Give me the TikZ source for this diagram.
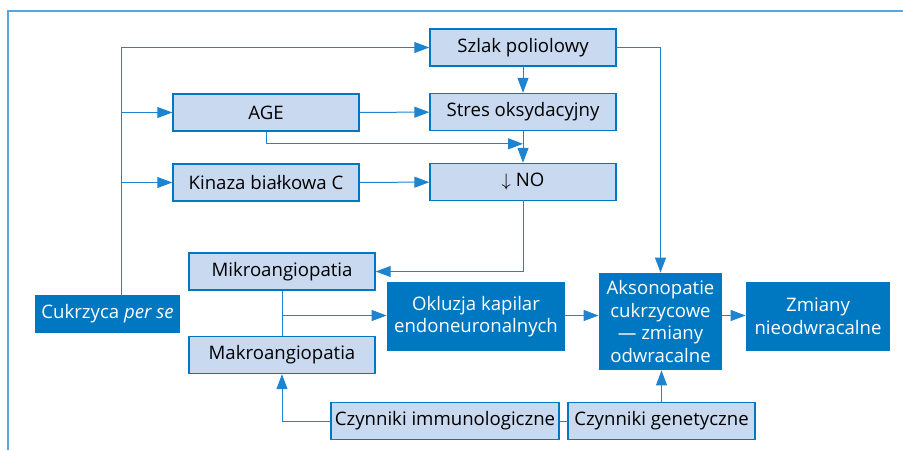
\documentclass[tikz,border=0pt]{standalone}
\usepackage{fontspec}
\setmainfont{Open Sans}
\usepackage{tikz}
\definecolor{boxfill}{RGB}{200,217,240}
\definecolor{boxblue}{RGB}{0,120,193}
\definecolor{linkblue}{RGB}{30,132,208}
\definecolor{frameblue}{RGB}{90,166,220}
\usetikzlibrary{arrows.meta, calc}

\begin{document}
\begin{tikzpicture}[x=0.5pt, y=-0.5pt,
		>={Triangle[length=7.5pt,width=5.5pt]},   %Pfeilspitzen
		font=\fontsize{9.3}{11.3}\selectfont,
		lightbox/.style={draw=boxblue, fill=boxfill, line width=0.7pt, inner sep=0pt, minimum width=#1, minimum height=18.5pt},
		lightbox/.default=93pt,
		darkbox/.style={fill=boxblue, text=white, align=center, inner sep=0pt},
		link/.style={draw=linkblue, line width=0.5pt}]
		\useasboundingbox (0,0) rectangle (903,450);
		%Rahmen zeichnen
		\draw[frameblue, line width=0.8pt] (903,11) -- (8,11) -- (8,450);
		%Kaesten oben
		\node[lightbox] (szlak) at (523,47.5) {Szlak poliolowy};
		\node[lightbox] (age) at (266,112.5) {AGE};
		\node[lightbox] (stres) at (523,112) {Stres oksydacyjny};
		\node[lightbox] (kinaza) at (266,182.5) {Kinaza białkowa C};
		\node[lightbox] (no) at (523,182) {$\downarrow$ NO};
		%Kaesten unten
		\node[lightbox] (mikro) at (282,271.5) {Mikroangiopatia};
		\node[lightbox] (makro) at (282,355) {Makroangiopatia};
		\node[lightbox=114pt] (immu) at (445,421) {Czynniki immunologiczne};
		\node[lightbox=93.5pt] (gen) at (661.5,421) {Czynniki genetyczne};
		%dunkle Kaesten
		\node[darkbox, minimum width=72.5pt, minimum height=19pt] (cukrz) at (107.5,314) {Cukrzyca \textit{per se}};
		\node[darkbox, minimum width=89pt, minimum height=34.5pt] (okl) at (476,316.5) {Okluzja kapilar\\endoneuronalnych};
		\node[darkbox, minimum width=61.5pt, minimum height=48.5pt] (akso) at (660.5,321.5) {Aksonopatie\\cukrzycowe\\— zmiany\\odwracalne};
		\node[darkbox, minimum width=72pt, minimum height=34.5pt] (zmiany) at (818,316.5) {Zmiany\\nieodwracalne};
		%Verbindungen zeichnen
		\coordinate (trunk) at (121,47.5);
		\path[link, ->] (trunk |- cukrz.north) |- (szlak.west);
		\path[link, ->] (trunk |- age.west) -- (age.west);
		\path[link, ->] (trunk |- kinaza.west) -- (kinaza.west);
		\path[link, ->] (age) -- (stres);
		\path[link, ->] (kinaza) -- (no);
		\path[link, ->] (szlak) -- (stres);
		\path[link, ->] (stres) -- (no);
		\path[link, ->] (age.south) |- ($(stres.south)!.4!(no.north)$);
		\path[link, ->] (szlak.east) -| (akso.north);
		\path[link, ->] (no.south) |- (mikro.east);
		\path[link] (mikro) -- (makro);
		\coordinate (mid) at ($(mikro.south)!.55!(makro.north)$);
		\path[link, ->] (mid) -- (mid -| okl.west);
		\path[link, ->] (mid -| okl.east) -- (mid -| akso.west);
		\path[link, ->] (mid -| akso.east) -- (mid -| zmiany.west);
		\path[link, ->] (gen.north) -- (gen.north |- akso.south);
		\path[link, ->] (immu.west) -| (makro.south);
		\path[link] (immu) -- (gen);
	\end{tikzpicture}
\end{document}
